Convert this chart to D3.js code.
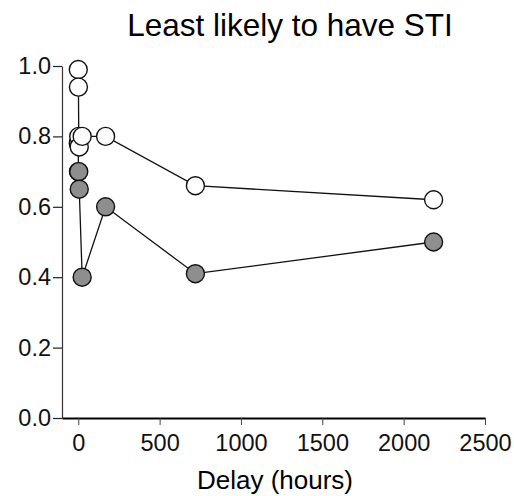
<!DOCTYPE html>
<html>
<head>
<meta charset="utf-8">
<script src="https://cdn.jsdelivr.net/npm/d3@7"></script>
<style>
  html, body { margin: 0; padding: 0; background: #fff; }
  svg { display: block; font-family: "Liberation Sans", Arial, sans-serif; }
</style>
</head>
<body>
<div id="chart"></div>
<script>
// Delay in hours, and indifference proportions for the two conditions
const delays      = [0, 1, 3, 6, 24, 168, 720, 2184];
const openValues  = [0.99, 0.94, 0.80, 0.77, 0.80, 0.80, 0.66, 0.62];
const grayValues  = [0.78, 0.70, 0.70, 0.65, 0.40, 0.60, 0.41, 0.50];
const xTicks      = [0, 500, 1000, 1500, 2000, 2500];
const yTicks      = [0.0, 0.2, 0.4, 0.6, 0.8, 1.0];

const W = 514, H = 496;
const svg = d3.select('#chart').append('svg')
    .attr('width', W).attr('height', H);

const x = d3.scaleLinear().domain([-100, 2500]).range([62, 485]);
const y = d3.scaleLinear().domain([0, 1]).range([418, 66]);

// Title
svg.append('text')
    .attr('x', 290).attr('y', 36)
    .attr('text-anchor', 'middle')
    .style('font-size', '31.5px')
    .text('Least likely to have STI');

// ── Axes ─────────────────────────────────────────────
const yAxis = svg.append('g')
    .attr('transform', `translate(${x(-100)},0)`)
    .call(d3.axisLeft(y).tickValues(yTicks).tickFormat(d3.format('.1f'))
        .tickSize(9).tickPadding(2).tickSizeOuter(0));
yAxis.select('.domain').attr('stroke', '#333').attr('stroke-width', 1.2);
yAxis.selectAll('.tick line').attr('stroke', '#222').attr('stroke-width', 1.2);
yAxis.selectAll('.tick text')
    .style('font-size', '23.5px').style('font-family', 'Liberation Sans, Arial, sans-serif')
    .attr('fill', '#111');

const xAxis = svg.append('g')
    .attr('transform', `translate(0,${y(0)})`)
    .call(d3.axisBottom(x).tickValues(xTicks).tickFormat(d3.format('d'))
        .tickSize(7).tickPadding(9).tickSizeOuter(0));
xAxis.select('.domain').attr('stroke', '#000').attr('stroke-width', 2);
xAxis.selectAll('.tick line').attr('stroke', '#444').attr('stroke-width', 1);
xAxis.selectAll('.tick text')
    .style('font-size', '23.5px').style('font-family', 'Liberation Sans, Arial, sans-serif')
    .attr('fill', '#111');

svg.append('text')
    .attr('x', 275).attr('y', 489)
    .attr('text-anchor', 'middle')
    .style('font-size', '26px')
    .text('Delay (hours)');

// ── Series ───────────────────────────────────────────
const line = d3.line()
    .x(d => x(d.delay))
    .y(d => y(d.value));

const series = [
    { values: grayValues, fill: '#8e8e8e' },
    { values: openValues, fill: '#fff' }
];

series.forEach(s => {
    const pts = delays.map((d, i) => ({ delay: d, value: s.values[i] }));
    const g = svg.append('g');
    g.append('path').datum(pts)
        .attr('d', line)
        .attr('fill', 'none')
        .attr('stroke', '#111')
        .attr('stroke-width', 1.3);
    g.selectAll('circle').data(pts).join('circle')
        .attr('cx', d => x(d.delay))
        .attr('cy', d => y(d.value))
        .attr('r', 9)
        .attr('fill', s.fill)
        .attr('stroke', '#111')
        .attr('stroke-width', 1.4);
});
</script>
</body>
</html>
